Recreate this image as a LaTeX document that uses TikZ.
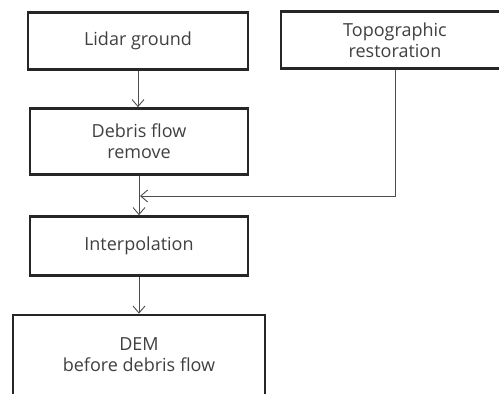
\documentclass[tikz,border=0pt]{standalone}
\usepackage{fontspec}
\setmainfont{Open Sans}
\usetikzlibrary{arrows.meta}
\begin{document}
\begin{tikzpicture}[x=1pt,y=-1pt,
  box/.style={draw=black!85,line width=2.6pt,minimum width=#1,align=center,inner sep=0pt,
    font=\fontsize{18}{21}\selectfont,text=black!75},
  conn/.style={draw=black!70,line width=0.9pt,-{Straight Barb[length=7pt,width=12pt,line width=0.9pt]}}]
\useasboundingbox (0,0) rectangle (499,394);
\clip (0,0) rectangle (499,394);
\node[box=220pt,minimum height=57pt] (b1) at (138,41) {Lidar ground};
\node[box=228pt,minimum height=57pt] (b2) at (395,40) {Topographic\\restoration};
\node[box=218pt,minimum height=66pt] (b3) at (139,141.5) {Debris flow\\remove};
\node[box=218pt,minimum height=59pt] (b4) at (139,246) {Interpolation};
\node[box=252pt,minimum height=80pt] (b5) at (139,355) {DEM\\before debris flow};
\coordinate (j) at (140,196);
\draw[conn] (b1.south -| 138,0) -- (b3.north -| 138,0);
\draw[conn] (b3.south -| 139,0) -- (b4.north -| 139,0);
\draw[conn] (b4) -- (b5);
\draw[conn] (b2.south) |- (j);
\end{tikzpicture}
\end{document}
